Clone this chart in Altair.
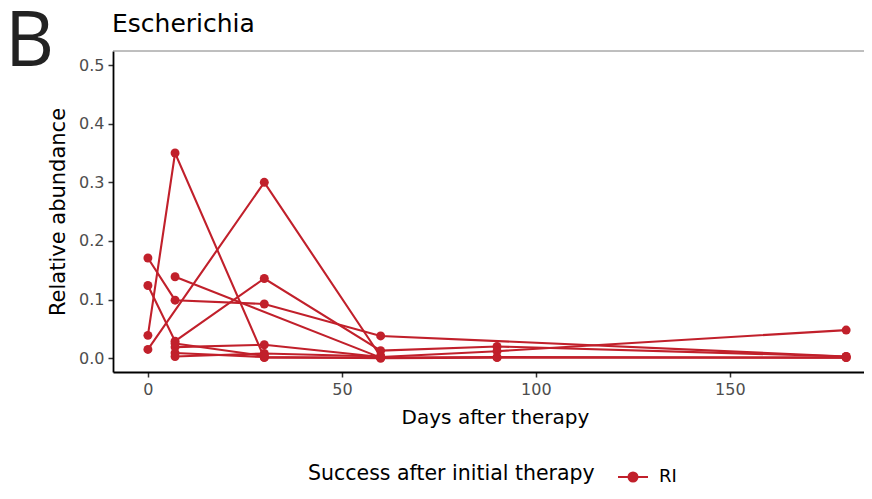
import altair as alt
import pandas as pd

RED = "#C1202B"

# per-subject series (days after therapy, relative abundance)
days_A = [0, 7, 30, 60, 180]
vals_A = [0.171, 0.099, 0.0925, 0.038, 0.003]
days_B = [0, 7, 30, 60, 90, 180]
vals_B = [0.124, 0.029, 0.136, 0.013, 0.020, 0.003]
days_C = [0, 7, 30, 60, 90, 180]
vals_C = [0.039, 0.350, 0.001, 0.001, 0.002, 0.001]
days_D = [0, 30, 60]
vals_D = [0.015, 0.300, 0.003]
days_E = [7, 60]
vals_E = [0.139, 0.001]
days_F = [7, 30, 60, 90, 180]
vals_F = [0.019, 0.023, 0.002, 0.012, 0.048]
days_G = [7, 30, 60, 90, 180]
vals_G = [0.009, 0.002, 0.000, 0.001, 0.001]
days_H = [7, 30, 60]
vals_H = [0.003, 0.008, 0.003]
days_I = [7, 30]
vals_I = [0.025, 0.004]

panel_tag = "B"
panel_title = "Escherichia"

series = {
    "A": (days_A, vals_A), "B": (days_B, vals_B), "C": (days_C, vals_C),
    "D": (days_D, vals_D), "E": (days_E, vals_E), "F": (days_F, vals_F),
    "G": (days_G, vals_G), "H": (days_H, vals_H), "I": (days_I, vals_I),
}
rows = []
for sid, (ds, vs) in series.items():
    for d, v in zip(ds, vs):
        rows.append({"subject": sid, "day": d, "abundance": v, "group": "RI"})
df = pd.DataFrame(rows)

x_ticks = [0, 50, 100, 150]
y_ticks = [0.0, 0.1, 0.2, 0.3, 0.4, 0.5]

W, H = 751, 321
FONT = "DejaVu Sans"

x_enc = alt.X(
    "day:Q",
    scale=alt.Scale(domain=[-9, 184.6], nice=False, zero=False),
    axis=alt.Axis(values=x_ticks, title="Days after therapy", titleX=382, titleY=51,
                  titleAlign="center", titleBaseline="alphabetic", format="d"),
)
y_enc = alt.Y(
    "abundance:Q",
    scale=alt.Scale(domain=[-0.0235, 0.524], nice=False, zero=False),
    axis=alt.Axis(values=y_ticks, format=".1f", title="Relative abundance",
                  titleX=-49, titleY=H / 2, titleAlign="center", titleBaseline="alphabetic",
                  titleAngle=-90, titleFontSize=21),
)
color_enc = alt.Color(
    "group:N",
    scale=alt.Scale(domain=["RI"], range=[RED]),
    legend=alt.Legend(
        title="Success after initial therapy",
        orient="none", legendX=195, legendY=410, direction="horizontal",
        titleOrient="left", titleFontSize=20.5, titleFont=FONT, titleFontWeight="normal",
        titleColor="black", titlePadding=22, titleBaseline="middle", titleAnchor="middle",
        titleLimit=1000, labelLimit=200,
        labelFontSize=18, labelFont=FONT, labelColor="black", labelOffset=10,
        symbolType="M-1,0L1,0M-0.3,0A0.3,0.3 0 1,0 0.3,0A0.3,0.3 0 1,0 -0.3,0Z",
        symbolSize=900, symbolStrokeWidth=2, symbolStrokeColor=RED, symbolFillColor=RED,
        symbolOpacity=1,
    ),
)

base = alt.Chart(df)
lines = base.mark_line(strokeWidth=2.1).encode(x=x_enc, y=y_enc, color=color_enc, detail="subject:N")
points = base.mark_point(filled=True, size=80, opacity=1).encode(x=x_enc, y=y_enc, color=color_enc)

top_border = alt.Chart(pd.DataFrame({"k": [0]})).mark_rule(color="#7f7f7f", strokeWidth=1).encode(
    y=alt.value(0), x=alt.value(0), x2=alt.value(W)
)
tag = alt.Chart(pd.DataFrame({"tag": [panel_tag]})).mark_text(
    fontSize=76, font="Open Sans", align="left", baseline="alphabetic", color="#222222"
).encode(text="tag:N", x=alt.value(-108), y=alt.value(15))
title = alt.Chart(pd.DataFrame({"t": [panel_title]})).mark_text(
    fontSize=25, font=FONT, align="left", baseline="alphabetic", color="black"
).encode(text="t:N", x=alt.value(-1), y=alt.value(-19))

chart = alt.layer(top_border, lines, points, tag, title).properties(
    width=W, height=H,
    autosize=alt.AutoSizeParams(type="none"),
    padding={"left": 105, "top": 43, "right": 0, "bottom": 119},
).configure_view(stroke=None).configure_axis(
    grid=False, domainColor="black", domainWidth=1.8, tickColor="#333333", tickWidth=1.5,
    tickSize=5, labelFont=FONT, labelFontSize=16, labelColor="#4D4D4D", labelPadding=4,
    titleFont=FONT, titleFontSize=20, titleFontWeight="normal", titleColor="black",
)

chart.save("out.html", embed_options={"renderer": "svg", "actions": False})
